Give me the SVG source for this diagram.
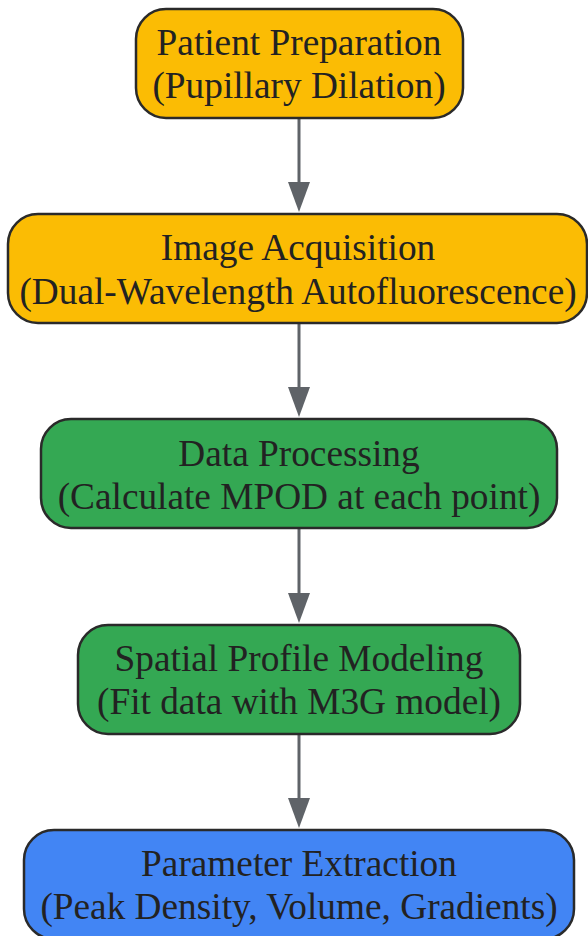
<svg xmlns="http://www.w3.org/2000/svg" width="588" height="936" viewBox="0 0 588 936">
<style>
.n{stroke:#2a2a2a;stroke-width:2.5}
.a{fill:#FBBC04}.g{fill:#34A853}.b{fill:#4285F4}
text{font-family:"Liberation Serif","Times New Roman",serif;font-size:37.3px;fill:#222;text-anchor:middle}
.e{stroke:#5f6368;stroke-width:3;fill:none}
.h{fill:#5f6368}
</style>
<rect width="588" height="936" fill="#fff"/>
<g id="connectors">
<line class="e" x1="299" y1="118" x2="299" y2="182"/>
<path class="h" d="M288,182 L310,182 L299,212 Z"/>
<line class="e" x1="299" y1="323" x2="299" y2="387"/>
<path class="h" d="M288,387 L310,387 L299,417 Z"/>
<line class="e" x1="299" y1="528" x2="299" y2="593"/>
<path class="h" d="M288,593 L310,593 L299,623 Z"/>
<line class="e" x1="299" y1="734" x2="299" y2="798"/>
<path class="h" d="M288,798 L310,798 L299,828 Z"/>
</g>
<g id="n1">
<rect class="n a" x="136" y="9" width="327" height="109" rx="30"/>
<text x="299" y="55">Patient Preparation</text>
<text x="299" y="98">(Pupillary Dilation)</text>
</g>
<g id="n2">
<rect class="n a" x="8" y="214" width="579" height="109" rx="30"/>
<text x="298" y="260">Image Acquisition</text>
<text x="298" y="304">(Dual-Wavelength Autofluorescence)</text>
</g>
<g id="n3">
<rect class="n g" x="41" y="419" width="516" height="109" rx="30"/>
<text x="299" y="466">Data Processing</text>
<text x="299" y="509">(Calculate MPOD at each point)</text>
</g>
<g id="n4">
<rect class="n g" x="78" y="625" width="442" height="109" rx="30"/>
<text x="299" y="671">Spatial Profile Modeling</text>
<text x="299" y="714">(Fit data with M3G model)</text>
</g>
<g id="n5">
<rect class="n b" x="24" y="830" width="550" height="109" rx="30"/>
<text x="299" y="876">Parameter Extraction</text>
<text x="299" y="919">(Peak Density, Volume, Gradients)</text>
</g>
</svg>
